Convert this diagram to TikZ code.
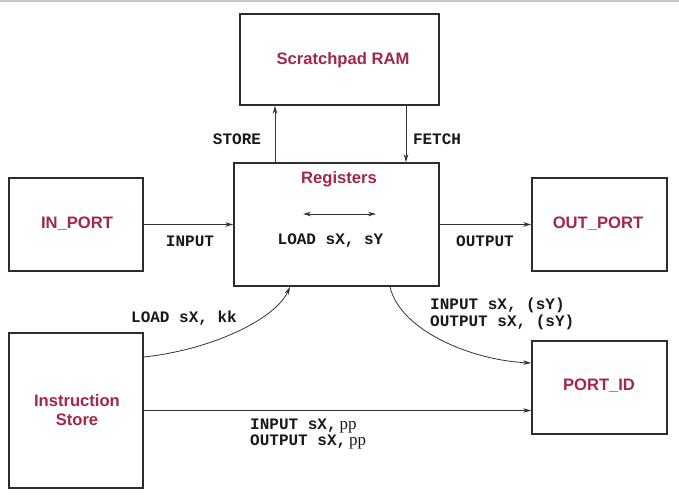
\documentclass[tikz,border=0pt]{standalone}
\usepackage{fontspec}
\setmainfont{Liberation Serif}
\setsansfont{Liberation Sans}
\setmonofont{Liberation Mono}
\usetikzlibrary{arrows.meta}
\definecolor{lblred}{RGB}{164,38,74}
\definecolor{boxgray}{RGB}{45,45,45}
\tikzset{
  blk/.style={draw=boxgray, line width=1.6pt, fill=white, inner sep=0pt},
  blktext/.style={text=lblred, font=\sffamily\bfseries\fontsize{16.6}{19.5}\selectfont, align=center},
  code/.style={font=\ttfamily\bfseries\fontsize{16}{17}\selectfont, inner sep=0pt, text=black!90},
  conn/.style={draw=black!80, line width=0.8pt, -{Stealth[length=8pt,width=4.5pt]}}
}
\newcommand{\ppserif}{\hspace{3pt}{\rmfamily\mdseries\fontsize{17}{17}\selectfont pp}}
\begin{document}
\begin{tikzpicture}[x=1pt,y=-1pt]
\useasboundingbox (0,0) rectangle (679,495);
\draw[gray!45, line width=1.5pt] (0,0.8) -- (679,0.8);

% blocks
\node[blk, minimum width=199pt, minimum height=91pt] (scr) at (339.5,59.5) {};
\node[blktext] (scrt) at (343,60) {Scratchpad RAM};
\node[blk, minimum width=205pt, minimum height=123pt] (reg) at (336.5,224.5) {};
\node[blktext] (regt) at (339,179) {Registers};
\node[blk, minimum width=134pt, minimum height=93pt] (inp) at (76,224.5) {};
\node[blktext] (inpt) at (77,224) {IN\_PORT};
\node[blk, minimum width=135pt, minimum height=93pt] (outp) at (599.5,224.5) {};
\node[blktext] (outpt) at (598,224) {OUT\_PORT};
\node[blk, minimum width=134pt, minimum height=155pt] (is) at (76,410.5) {};
\node[blktext] (ist) at (77,410) {Instruction\\Store};
\node[blk, minimum width=135pt, minimum height=93pt] (pid) at (599.5,387.5) {};
\node[blktext] (pidt) at (599,386) {PORT\_ID};

% inside registers
\coordinate (dl) at (303,214);
\coordinate (dr) at (376,214);
\draw[draw=black!80, line width=0.8pt, {Stealth[length=8pt,width=4.5pt]}-{Stealth[length=8pt,width=4.5pt]}] (dl) -- (dr);
\node[code] (ldxy) at (330.5,241) {LOAD sX, sY};

% store / fetch
\coordinate (sx) at (275,0);
\coordinate (fx) at (406,0);
\draw[conn] (reg.north -| sx) -- (scr.south -| sx);
\draw[conn] (scr.south -| fx) -- (reg.north -| fx);
\node[code] (store) at (237,139) {STORE};
\node[code] (fetch) at (437,139) {FETCH};

% input / output
\draw[conn] (inp.east) -- (reg.west |- inp.east);
\draw[conn] (reg.east |- outp.west) -- (outp.west);
\node[code] (inl) at (190,241) {INPUT};
\node[code] (outl) at (485,241) {OUTPUT};

% curves
\coordinate (c1s) at (0,357);
\coordinate (c1e) at (290,0);
\draw[conn] (is.east |- c1s) .. controls (210,350) and (275,320) .. (reg.south -| c1e);
\node[code] (ldkk) at (184,318) {LOAD sX, kk};

\coordinate (c2s) at (390,0);
\coordinate (c2e) at (0,363);
\draw[conn] (reg.south -| c2s) .. controls (400,330) and (470,360) .. (pid.west |- c2e);
\node[code, anchor=west] (io1) at (430,305) {INPUT sX, (sY)};
\node[code, anchor=west] (io2) at (430,322) {OUTPUT sX, (sY)};

\coordinate (c3) at (0,410.5);
\draw[conn] (is.east |- c3) -- (pid.west |- c3);
\node[code, anchor=west] (pp1) at (250,426) {INPUT sX,\ppserif};
\node[code, anchor=west] (pp2) at (250,442) {OUTPUT sX,\ppserif};
\end{tikzpicture}
\end{document}
